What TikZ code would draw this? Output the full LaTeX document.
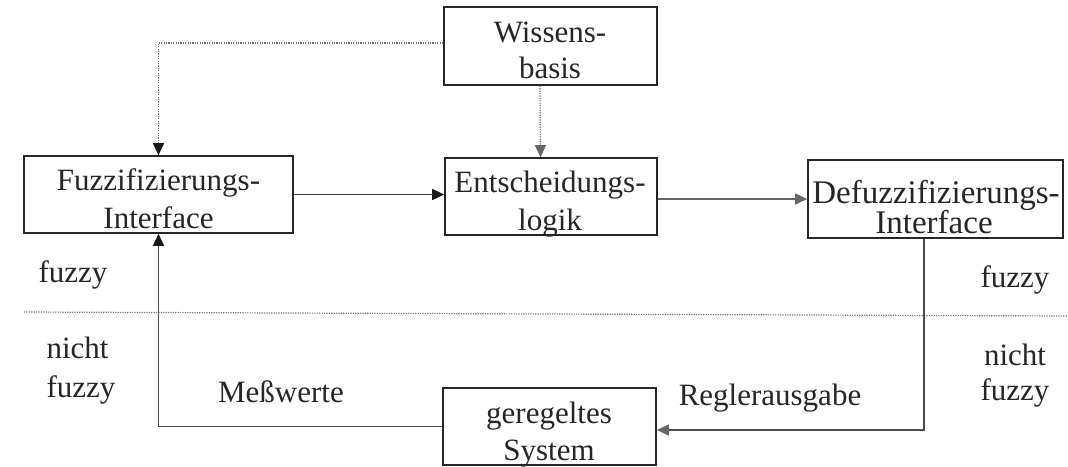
\documentclass[tikz,border=0pt]{standalone}
\usepackage{fontspec}
\setmainfont{Liberation Serif}
\usetikzlibrary{arrows.meta}
\begin{document}
\begin{tikzpicture}[x=0.5pt,y=-0.5pt,
  box/.style={draw=black!85, line width=0.8pt, inner sep=0pt},
  lbl/.style={anchor=base, inner sep=0pt, text=black!85, font=\fontsize{15.5}{18.5}\selectfont},
  conn/.style={draw=black!75, line width=0.75pt},
  tipdark/.style={-{Triangle[length=6pt,width=5.5pt,color=black!90]}},
  tipgray/.style={-{Triangle[length=6pt,width=5.5pt,color=black!60]}},
  dots/.style={draw=black!55, line width=0.6pt, dash pattern=on 0.6pt off 0.6pt},
]
\useasboundingbox (0,0) rectangle (1068,466);

% boxes
\node[box, minimum width=106.5pt, minimum height=39pt]   (W) at (550.5,46) {};
\node[box, minimum width=134.5pt, minimum height=38.5pt] (F) at (158.5,194.5) {};
\node[box, minimum width=106pt,   minimum height=38.5pt] (E) at (551,196.5) {};
\node[box, minimum width=127.5pt, minimum height=39pt]   (D) at (935.5,199) {};
\node[box, minimum width=106.5pt, minimum height=38.5pt] (G) at (549.5,426.5) {};

% box texts
\node[lbl] (W1) at (550,42) {Wissens-};
\node[lbl] (W2) at (550,78) {basis};
\node[lbl] (F1) at (158.5,190) {Fuzzifizierungs-};
\node[lbl] (F2) at (158.5,228) {Interface};
\node[lbl] (E1) at (550,192) {Entscheidungs-};
\node[lbl] (E2) at (550,230) {logik};
\node[lbl, font=\fontsize{16.5}{19}\selectfont] (D1) at (936,203) {Defuzzifizierungs-};
\node[lbl, font=\fontsize{16.5}{19}\selectfont] (D2) at (934,233) {Interface};
\node[lbl] (G1) at (549,423) {geregeltes};
\node[lbl] (G2) at (549,460) {System};

% side labels
\node[lbl] (Lf)  at (73,282)   {fuzzy};
\node[lbl] (Ln)  at (77.5,358) {nicht};
\node[lbl] (Lf2) at (81,397)   {fuzzy};
\node[lbl] (Rf)  at (1015,287) {fuzzy};
\node[lbl] (Rn)  at (1015,365) {nicht};
\node[lbl] (Rf2) at (1015,400) {fuzzy};
\node[lbl] (M)   at (281,402)  {Meßwerte};
\node[lbl] (R)   at (770,405)  {Reglerausgabe};

% separator
\draw[dots] (24,312) -- (1068,316);

% connectors
\draw[dots, tipdark] ([yshift=1.5pt]W.west) -| (F.north);
\draw[dots, tipgray] ([xshift=-5.25pt]W.south) -- ([xshift=-5.25pt]E.north);
\draw[conn, tipdark] (F.east) -- (E.west |- F.east);
\draw[conn, draw=black!60, tipgray] (D.west -| E.east) -- (D.west);
\draw[conn, draw=black!70, tipgray] ([xshift=-5.75pt]D.south) |- ([yshift=-1.75pt]G.east);
\draw[conn, draw=black!70, tipdark] (G.west) -| (F.south);
\end{tikzpicture}
\end{document}
